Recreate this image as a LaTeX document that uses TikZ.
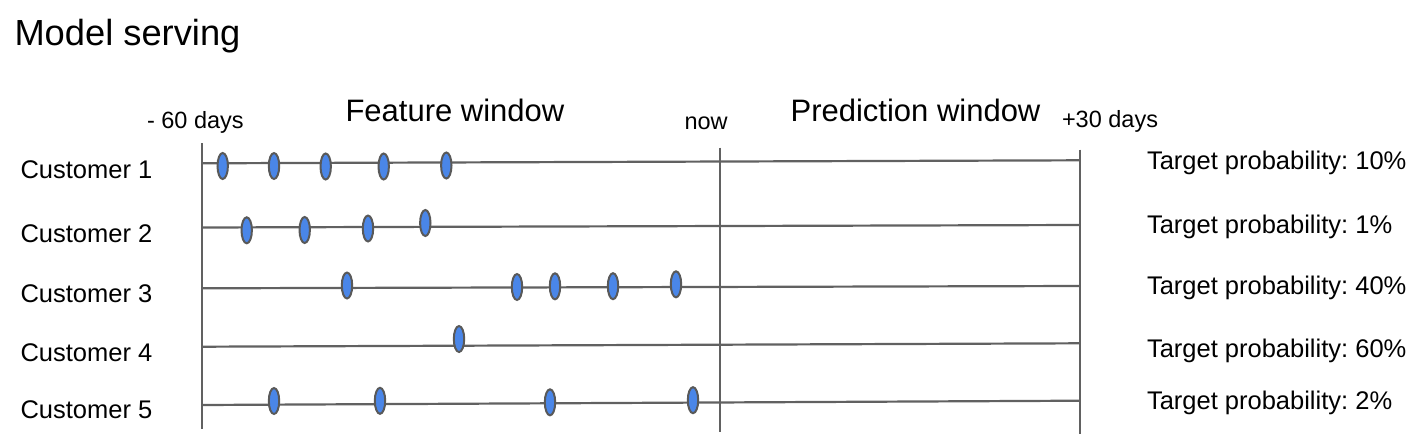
\documentclass[tikz,border=0pt]{standalone}
\usepackage{fontspec}
\setmainfont{Liberation Sans}
\usetikzlibrary{shapes.geometric}
\definecolor{linegray}{HTML}{616161}
\definecolor{evblue}{HTML}{4A86E8}
\definecolor{evedge}{HTML}{595959}
\frenchspacing
\tikzset{
  txt/.style={anchor=base west, inner sep=0pt, outer sep=0pt, text=black},
  ttl/.style={txt, font=\fontsize{36.3}{42}\selectfont},
  win/.style={txt, font=\fontsize{31}{36}\selectfont},
  tick/.style={txt, font=\fontsize{23.5}{28}\selectfont},
  lab/.style={txt, font=\fontsize{25.5}{30}\selectfont},
  tline/.style={draw=linegray, line width=2.2pt},
  vline/.style={draw=linegray, line width=2.2pt},
  ev/.style={ellipse, draw=evedge, fill=evblue, line width=2pt,
    minimum width=10.4pt, minimum height=26pt, inner sep=0pt}
}
\begin{document}
\begin{tikzpicture}[x=1pt,y=-1pt]
\useasboundingbox (0,0) rectangle (1426,447);
% titles
\node[ttl] (title) at (14.5,45) {Model serving};
\node[tick] (m60) at (147,128) {- 60 days};
\node[win] (fw) at (345.5,121) {Feature window};
\node[tick] (now) at (684.5,129) {now};
\node[win] (pw) at (790.6,121) {Prediction window};
\node[tick] (p30) at (1062,127) {+30 days};
% customer labels
\node[lab] (c1) at (20.5,178) {Customer 1};
\node[lab] (c2) at (20.5,242.5) {Customer 2};
\node[lab] (c3) at (20.5,302) {Customer 3};
\node[lab] (c4) at (20.5,361) {Customer 4};
\node[lab] (c5) at (20.5,418) {Customer 5};
% target probabilities
\node[lab] (t1) at (1147,169.3) {Target probability: 10\%};
\node[lab] (t2) at (1147,233.3) {Target probability: 1\%};
\node[lab] (t3) at (1147,294) {Target probability: 40\%};
\node[lab] (t4) at (1147,357.3) {Target probability: 60\%};
\node[lab] (t5) at (1147,409.3) {Target probability: 2\%};
% coordinates
\coordinate (l1) at (202,163.3); \coordinate (r1) at (1080,160.3);
\coordinate (l2) at (202,227.5); \coordinate (r2) at (1080,225);
\coordinate (l3) at (202,288.3); \coordinate (r3) at (1080,286);
\coordinate (l4) at (202,346.7); \coordinate (r4) at (1080,343.3);
\coordinate (l5) at (202,405);   \coordinate (r5) at (1080,400.7);
\coordinate (vat) at (202,143); \coordinate (vab) at (202,428.5);
\coordinate (vbt) at (720,147.5); \coordinate (vbb) at (720,432);
\coordinate (vct) at (1080,149.5); \coordinate (vcb) at (1080,434);
% vertical lines
\draw[vline] (vat) -- (vab);
\draw[vline] (vbt) -- (vbb);
\draw[vline] (vct) -- (vcb);
% timelines
\foreach \i in {1,...,5} { \draw[tline] (l\i) -- (r\i); }
% events
\node[ev] (e11) at (222.7,166) {};
\node[ev] (e12) at (274,166) {};
\node[ev] (e13) at (325.7,166.5) {};
\node[ev] (e14) at (383.7,166.5) {};
\node[ev] (e15) at (446.3,165.5) {};
\node[ev] (e21) at (246.7,230.3) {};
\node[ev] (e22) at (304.7,230) {};
\node[ev] (e23) at (368,228.5) {};
\node[ev] (e24) at (425.3,223) {};
\node[ev] (e31) at (347,285.5) {};
\node[ev] (e32) at (517,287) {};
\node[ev] (e33) at (555,286.3) {};
\node[ev] (e34) at (613,286.2) {};
\node[ev] (e35) at (676,284.3) {};
\node[ev] (e41) at (459,339) {};
\node[ev] (e51) at (274,401) {};
\node[ev] (e52) at (380,400.8) {};
\node[ev] (e53) at (550,402.3) {};
\node[ev] (e54) at (693,400.2) {};
\end{tikzpicture}
\end{document}
